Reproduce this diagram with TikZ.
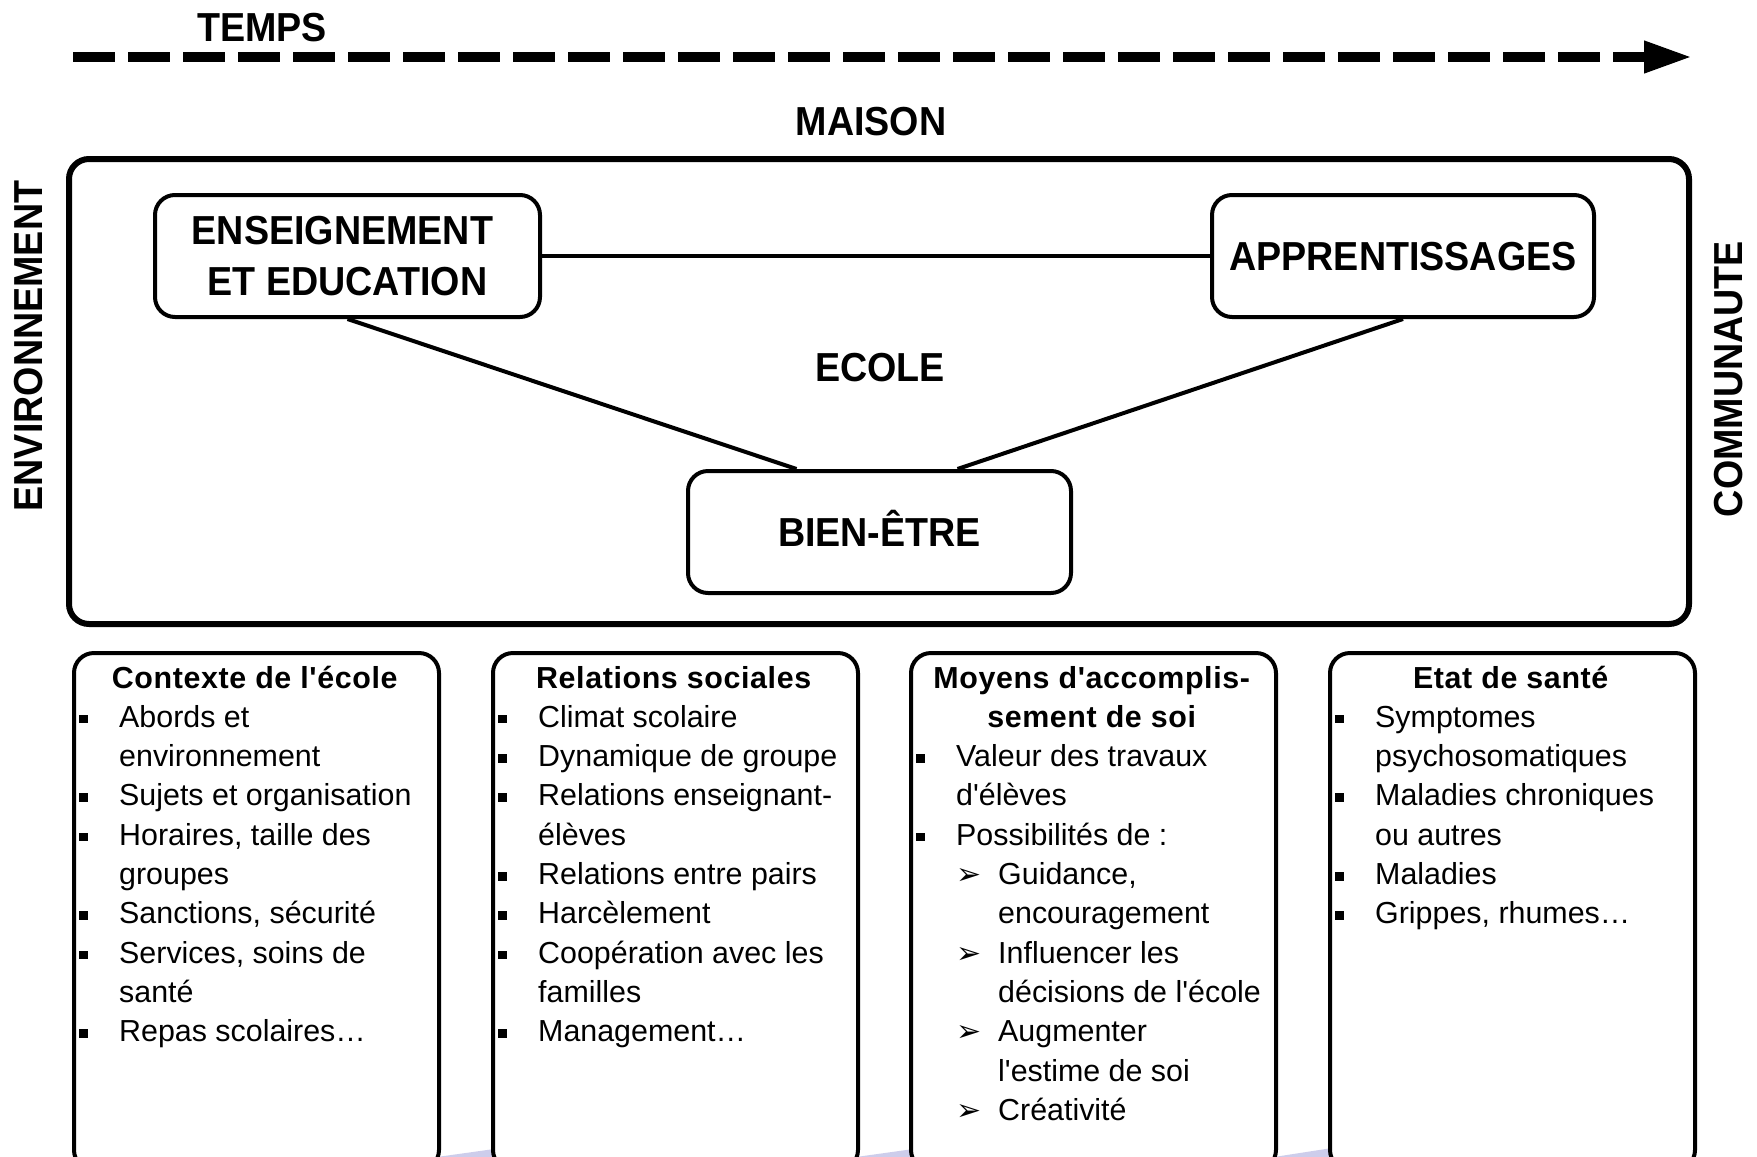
\documentclass[tikz,border=0pt]{standalone}
\usepackage{fontspec}
\setmainfont{Liberation Sans}[Ligatures=TeXOff]
\newfontfamily\hfont{Liberation Sans}[FakeStretch=0.93,Ligatures=TeXOff]
\newfontfamily\tfont{Liberation Sans}[LetterSpace=2,Ligatures=TeXOff]
\newfontfamily\symfont{DejaVu Sans}
\usetikzlibrary{arrows.meta}
\definecolor{lav}{RGB}{205,205,235}
\newcommand\ti[1]{\hbox to \linewidth{\hss{\tfont\bfseries #1}\hss}}
\newcommand\bi[1]{\hbox{\makebox[47pt][l]{\hspace*{7pt}\raisebox{4pt}{\rule{8.5pt}{8.5pt}}}#1}}
\newcommand\ci[1]{\hbox{\hspace*{47pt}#1}}
\newcommand\ai[1]{\hbox{\hspace*{47pt}\makebox[42pt][l]{\symfont\fontsize{30}{30}\selectfont ➢}#1}}
\newcommand\di[1]{\hbox{\hspace*{89pt}#1}}
\newenvironment{boxtext}{\begin{minipage}[t]{365pt}\setlength\lineskip{0pt}\setlength\lineskiplimit{-60pt}}{\end{minipage}}
\begin{document}
\begin{tikzpicture}[x=1pt,y=-1pt,
  hd/.style={font=\hfont\bfseries\fontsize{40.5}{51}\selectfont, inner sep=0pt},
  obox/.style={draw, line width=6pt, rounded corners=20pt, inner sep=0pt},
  ibox/.style={draw, line width=4pt, rounded corners=20pt, fill=white, inner sep=0pt,
               font=\hfont\bfseries\fontsize{40.5}{51}\selectfont},
  lbox/.style={draw, line width=4pt, rounded corners=20pt, fill=white, inner sep=0pt,
               minimum width=365pt, minimum height=517pt, anchor=north west},
  btext/.style={anchor=base west, inner sep=0pt, font=\fontsize{30.4}{39.3}\selectfont},
  conn/.style={line width=4pt},
  timeline/.style={line width=10pt, dash pattern=on 42pt off 13pt,
                   -{Triangle[length=48pt, width=30pt]}}]
\useasboundingbox (0,0) rectangle (1757,1157);
\clip (0,0) rectangle (1757,1157);
\fill[white] (0,0) rectangle (1757,1157);

% time arrow
\coordinate (t0) at (73,57);
\coordinate (t1) at (1692,57);
\draw[timeline] (t0) -- (t1);
\node[hd, anchor=base] (temps) at (262,41) {TEMPS};
\node[hd, anchor=base] (maison) at (871,135) {MAISON};

% side labels
\node[hd, rotate=90] (env) at (28.5,346) {ENVIRONNEMENT};
\node[hd, rotate=90] (comm) at (1729,379) {COMMUNAUTE};

% school box
\node[obox, minimum width=1620pt, minimum height=465pt] (school) at (879,391.5) {};
\node[hd, anchor=base] (ecole) at (880,381) {ECOLE};

\node[ibox, minimum width=385pt, minimum height=122pt, align=center] (ens) at (347.5,256) {ENSEIGNEMENT\hspace*{10pt}\\ET EDUCATION};
\node[ibox, minimum width=382pt, minimum height=122pt, text height=29pt, text depth=0pt] (app) at (1403,256) {APPRENTISSAGES};
\node[ibox, minimum width=383pt, minimum height=122pt, text height=29pt, text depth=0pt] (bien) at (879.5,532) {BIEN-ÊTRE};

\draw[conn] (ens) -- (app);
\draw[conn] (ens.south) -- ([xshift=-83pt]bien.north);
\draw[conn] (app.south) -- ([xshift=78pt]bien.north);

% faint shadows at the bottom
\fill[lav] (437,1157) -- (530,1144) -- (540,1157) -- cycle;
\fill[lav] (856,1157) -- (935,1146) -- (940,1157) -- cycle;
\fill[lav] (1274,1157) -- (1345,1146) -- (1350,1157) -- cycle;

% lower boxes
\node[lbox] (b1) at (72,651) {};
\node[lbox] (b2) at (491,651) {};
\node[lbox] (b3) at (909,651) {};
\node[lbox] (b4) at (1328,651) {};

\node[btext] (t1) at (72,688) {\begin{boxtext}
\ti{Contexte de l'école}
\bi{Abords et}
\ci{environnement}
\bi{Sujets et organisation}
\bi{Horaires, taille des}
\ci{groupes}
\bi{Sanctions, sécurité}
\bi{Services, soins de}
\ci{santé}
\bi{Repas scolaires…}
\end{boxtext}};

\node[btext] (t2) at (491,688) {\begin{boxtext}
\ti{Relations sociales}
\bi{Climat scolaire}
\bi{Dynamique de groupe}
\bi{Relations enseignant-}
\ci{élèves}
\bi{Relations entre pairs}
\bi{Harcèlement}
\bi{Coopération avec les}
\ci{familles}
\bi{Management…}
\end{boxtext}};

\node[btext] (t3) at (909,688) {\begin{boxtext}
\ti{Moyens d'accomplis-}
\ti{sement de soi}
\bi{Valeur des travaux}
\ci{d'élèves}
\bi{Possibilités de :}
\ai{Guidance,}
\di{encouragement}
\ai{Influencer les}
\di{décisions de l'école}
\ai{Augmenter}
\di{l'estime de soi}
\ai{Créativité}
\end{boxtext}};

\node[btext] (t4) at (1328,688) {\begin{boxtext}
\ti{Etat de santé}
\bi{Symptomes}
\ci{psychosomatiques}
\bi{Maladies chroniques}
\ci{ou autres}
\bi{Maladies}
\bi{Grippes, rhumes…}
\end{boxtext}};
\end{tikzpicture}
\end{document}
